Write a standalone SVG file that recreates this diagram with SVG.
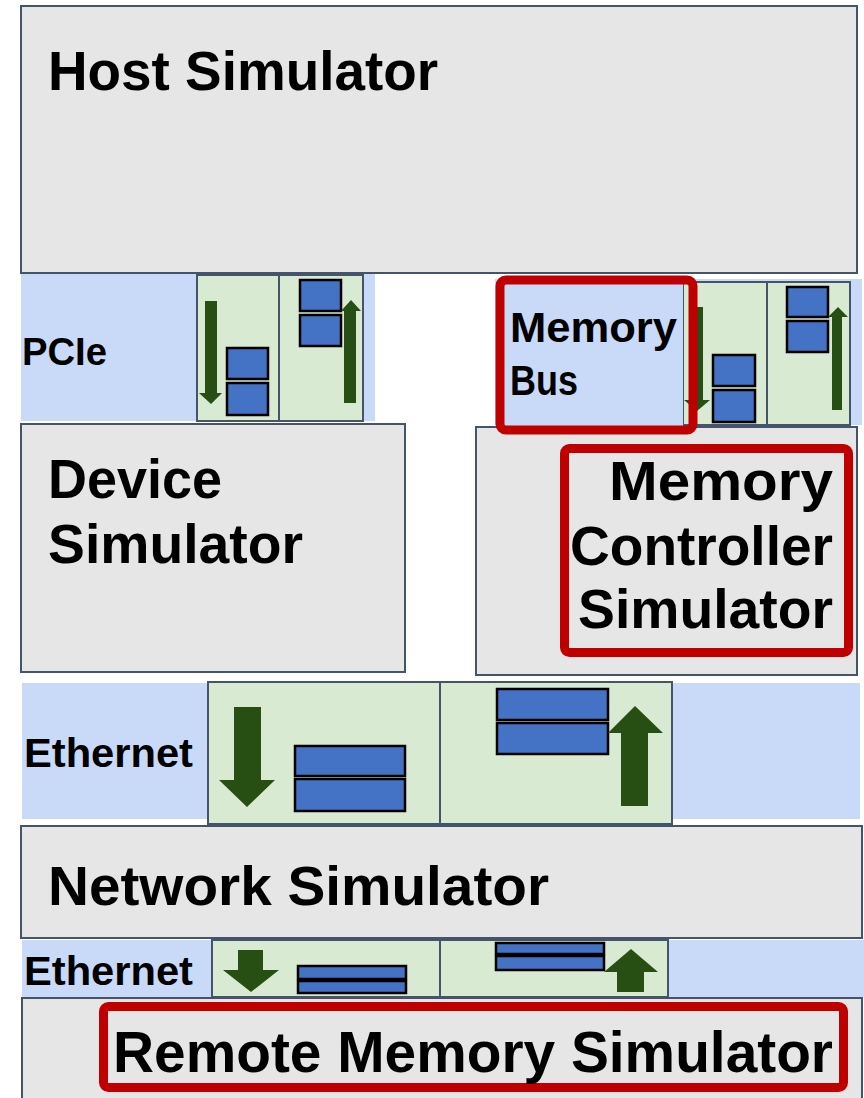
<svg xmlns="http://www.w3.org/2000/svg" width="864" height="1098" viewBox="0 0 864 1098">
<style>
.sim{fill:#e6e6e6;stroke:#44546a;stroke-width:2}
.band{fill:#c9daf8}
.q{fill:#d9ead3;stroke:#44546a;stroke-width:2}
.pkt{fill:#4472c4;stroke:#000;stroke-width:2.5}
.arr{fill:#274e13}
.red{fill:none;stroke:#c00000;stroke-width:9}
.t{font-family:"Liberation Sans",Arial,sans-serif;font-weight:bold;fill:#000}
</style>
<rect width="864" height="1098" fill="#fff"/>
<g id="host">
<rect class="sim" x="21" y="6" width="836" height="267"/>
<text class="t" x="48" y="90" font-size="55" textLength="390" lengthAdjust="spacingAndGlyphs">Host Simulator</text>
</g>
<g id="pcie">
<rect class="band" x="21" y="274" width="354" height="147"/>
<text class="t" x="22" y="365" font-size="39" textLength="85" lengthAdjust="spacingAndGlyphs">PCIe</text>
<rect class="q" x="197" y="275" width="82" height="146"/>
<rect class="q" x="279" y="275" width="84" height="146"/>
<rect class="pkt" x="227" y="348" width="41" height="31"/>
<rect class="pkt" x="227" y="383" width="41" height="32"/>
<rect class="pkt" x="300" y="280" width="41" height="31"/>
<rect class="pkt" x="300" y="315" width="41" height="31"/>
</g>
<g id="device">
<rect class="sim" x="21" y="424" width="384" height="248"/>
<text class="t" x="48" y="498" font-size="55" textLength="174" lengthAdjust="spacingAndGlyphs">Device</text>
<text class="t" x="48" y="563" font-size="55" textLength="255" lengthAdjust="spacingAndGlyphs">Simulator</text>
</g>
<g id="membus-queues">
<rect class="band" x="495" y="279" width="367" height="146"/>
<rect class="q" x="683" y="282" width="84" height="143"/>
<rect class="q" x="767" y="282" width="83" height="143"/>
<rect class="pkt" x="713" y="355" width="42" height="31"/>
<rect class="pkt" x="713" y="390" width="42" height="32"/>
<rect class="pkt" x="787" y="287" width="41" height="30"/>
<rect class="pkt" x="787" y="321" width="41" height="31"/>
</g>
<g id="memctrl">
<rect class="sim" x="476" y="427" width="381" height="248"/>
<rect class="red" x="564.5" y="448.5" width="284" height="204" rx="5"/>
<text class="t" x="833" y="500" font-size="56" text-anchor="end" textLength="224" lengthAdjust="spacingAndGlyphs">Memory</text>
<text class="t" x="833" y="565" font-size="56" text-anchor="end" textLength="263" lengthAdjust="spacingAndGlyphs">Controller</text>
<text class="t" x="833" y="628" font-size="56" text-anchor="end" textLength="255" lengthAdjust="spacingAndGlyphs">Simulator</text>
</g>
<g id="eth1">
<rect class="band" x="22" y="683" width="838" height="136"/>
<text class="t" x="24" y="767" font-size="41" textLength="169" lengthAdjust="spacingAndGlyphs">Ethernet</text>
<rect class="q" x="208" y="682" width="232" height="142"/>
<rect class="q" x="440" y="682" width="232" height="142"/>
<rect class="pkt" x="295" y="746" width="110" height="30"/>
<rect class="pkt" x="295" y="779" width="110" height="32"/>
<rect class="pkt" x="497" y="689" width="111" height="31"/>
<rect class="pkt" x="497" y="723" width="111" height="31"/>
</g>
<g id="network">
<rect class="sim" x="21" y="826" width="841" height="112"/>
<text class="t" x="48" y="905" font-size="56" textLength="501" lengthAdjust="spacingAndGlyphs">Network Simulator</text>
</g>
<g id="eth2">
<rect class="band" x="22" y="940" width="842" height="57"/>
<text class="t" x="24" y="985" font-size="41" textLength="169" lengthAdjust="spacingAndGlyphs">Ethernet</text>
<rect class="q" x="212" y="940" width="228" height="57"/>
<rect class="q" x="440" y="940" width="228" height="57"/>
<rect class="pkt" x="298" y="966" width="108" height="13"/>
<rect class="pkt" x="298" y="981" width="108" height="12"/>
<rect class="pkt" x="496" y="943" width="108" height="11"/>
<rect class="pkt" x="496" y="956" width="108" height="14"/>
</g>
<g id="remote">
<rect class="sim" x="22" y="998" width="840" height="110"/>
<rect class="red" x="103.5" y="1006.5" width="740" height="81" rx="5"/>
<text class="t" x="113" y="1072" font-size="57" textLength="720" lengthAdjust="spacingAndGlyphs">Remote Memory Simulator</text>
</g>
<g id="connectors">
<polygon class="arr" points="205,301 217,301 217,393 222,393 211,404 199,393 205,393"/>
<polygon class="arr" points="344,403 356,403 356,311 361,311 351,300 341,311 344,311"/>
<polygon class="arr" points="690,307 703,307 703,400 710,400 697,411 684,400 690,400"/>
<polygon class="arr" points="832,410 842,410 842,317 848,317 838,307 828,317 832,317"/>
<polygon class="arr" points="234,707 261,707 261,780 275,780 247,807 219,780 234,780"/>
<polygon class="arr" points="621,806 648,806 648,733 663,733 635,706 608,733 621,733"/>
<polygon class="arr" points="238,950 263,950 263,970 279,970 251,992 223,970 238,970"/>
<polygon class="arr" points="617,992 644,992 644,972 658,972 631,949 604,972 617,972"/>
</g>
<g id="membus">
<rect x="505" y="283" width="178" height="144" fill="#c9daf8"/>
<rect class="red" x="500" y="280" width="193" height="150" rx="6"/>
<text class="t" x="510" y="342" font-size="42" textLength="167" lengthAdjust="spacingAndGlyphs">Memory</text>
<text class="t" x="510" y="395" font-size="42" textLength="68" lengthAdjust="spacingAndGlyphs">Bus</text>
</g>
</svg>
